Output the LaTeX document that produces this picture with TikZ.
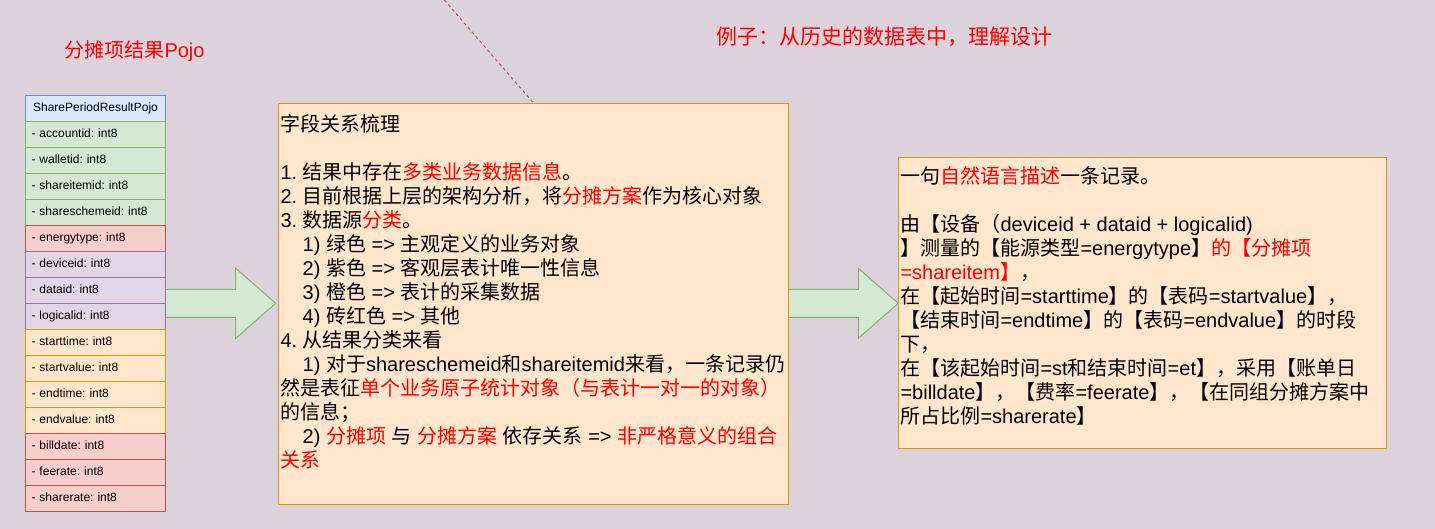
\documentclass[tikz,border=0pt]{standalone}
\usepackage{fontspec}
\setmainfont{Liberation Sans}
\newfontfamily\zhfont{Noto Sans CJK SC}
\newcommand\zhrun[1]{{\zhfont #1}}
\newcommand\redtxt[1]{{\color{red}#1}}
\newcommand\tabin{\hspace*{22.2pt}}
\definecolor{bg}{RGB}{219,210,219}
\definecolor{fgrn}{HTML}{D5E8D4}\definecolor{lgrn}{HTML}{82B366}
\definecolor{fbrk}{HTML}{F8CECC}\definecolor{lbrk}{HTML}{B85450}
\definecolor{fpur}{HTML}{E1D5E7}\definecolor{lpur}{HTML}{9673A6}
\definecolor{forg}{HTML}{FFE6CC}\definecolor{lorg}{HTML}{D79B00}
\definecolor{fblu}{HTML}{DAE8FC}\definecolor{lblu}{HTML}{6C8EBF}
\definecolor{dashred}{HTML}{B85450}
\begin{document}
\frenchspacing
\begin{tikzpicture}[x=1pt,y=-1pt,line width=1pt,
  row/.style={draw, anchor=north west, minimum width=140pt, minimum height=26pt,
    inner xsep=6pt, inner ysep=0pt, text width=128pt, align=left,
    font=\fontsize{12}{14}\selectfont, text height=8.6pt, text depth=2.6pt},
  hdr/.style={row, align=center, fill=fblu, draw=lblu},
  note/.style={draw=lorg, fill=forg, anchor=north west, inner sep=0pt},
  blockarrow/.style={draw=lgrn, fill=fgrn, line join=miter},
  body/.style={anchor=north west, inner sep=0pt, align=left,
    font={\fontsize{20}{24}\selectfont\lineskiplimit-50pt\lineskip0pt}},
  title/.style={anchor=base west, inner sep=0pt, text=red}]

% canvas
\useasboundingbox (0,0) rectangle (1435,529);
\fill[bg] (0,0) rectangle (1435,529);

% block arrows (drawn first, the boxes sit on top of their ends)
\draw[blockarrow] (165,289.3) -- (235.7,289.3) -- (235.7,268.3) -- (275.7,303.3)
  -- (235.7,338.3) -- (235.7,317.3) -- (165,317.3) -- cycle;
\draw[blockarrow] (788,289.3) -- (858.3,289.3) -- (858.3,268.3) -- (898.3,303.3)
  -- (858.3,338.3) -- (858.3,317.3) -- (788,317.3) -- cycle;

% class table
\node[hdr] (hdr) at (25,95) {SharePeriodResultPojo};
\foreach \lab/\sty [count=\i] in {accountid/grn,walletid/grn,shareitemid/grn,
  shareschemeid/grn,energytype/brk,deviceid/pur,dataid/pur,logicalid/pur,
  starttime/org,startvalue/org,endtime/org,endvalue/org,billdate/brk,
  feerate/brk,sharerate/brk}
  \node[row, draw=l\sty, fill=f\sty] (r\i) at (25,{95+26*\i}) {- \lab: int8};

% note boxes
\node[note, minimum width=510pt, minimum height=401pt] (mid) at (278,103) {};
\node[note, minimum width=488pt, minimum height=291pt] (rbox) at (898,157) {};

% dashed link
\coordinate (dtop) at (444.3,0);
\draw[dashred, dash pattern=on 3pt off 3pt] (dtop) -- (mid.north);

% titles
\node[title, font=\fontsize{20}{24}\selectfont] (t1) at (64,58) {\zhrun{分摊项结果}Pojo};
\node[title, font=\fontsize{21}{25}\selectfont] (t2) at (716,44.7) {\zhrun{例子：从历史的数据表中，理解设计}};

% field relation notes
\node[body] (midtxt) at (280,111) {\rule{0pt}{20pt}\zhrun{字段关系梳理}\\[24pt]
1. \zhrun{结果中存在}\redtxt{\zhrun{多类业务数据信息}}\zhrun{。}\\
2. \zhrun{目前根据上层的架构分析，将}\redtxt{\zhrun{分摊方案}}\zhrun{作为核心对象}\\
3. \zhrun{数据源}\redtxt{\zhrun{分类}}\zhrun{。}\\
\tabin 1) \zhrun{绿色} => \zhrun{主观定义的业务对象}\\
\tabin 2) \zhrun{紫色} => \zhrun{客观层表计唯一性信息}\\
\tabin 3) \zhrun{橙色} => \zhrun{表计的采集数据}\\
\tabin 4) \zhrun{砖红色} => \zhrun{其他}\\
4. \zhrun{从结果分类来看}\\
\tabin 1) \zhrun{对于}shareschemeid\zhrun{和}shareitemid\zhrun{来看，一条记录仍}\\
\zhrun{然是表征}\redtxt{\zhrun{单个业务原子统计对象（与表计一对一的对象）}}\\
\zhrun{的信息；}\\
\tabin 2) \redtxt{\zhrun{分摊项}} \zhrun{与} \redtxt{\zhrun{分摊方案}} \zhrun{依存关系} => \redtxt{\zhrun{非严格意义的组合}}\\
\redtxt{\zhrun{关系}}};

% record description
\node[body] (rtxt) at (900,162.5) {\rule{0pt}{20pt}\zhrun{一句}\redtxt{\zhrun{自然语言描述}}\zhrun{一条记录。}\\[24pt]
\zhrun{由【设备（}deviceid + dataid + logicalid)\\
\zhrun{】测量的【能源类型}=energytype\zhrun{】}\redtxt{\zhrun{的【分摊项}}\\
\redtxt{=shareitem\zhrun{】}}\zhrun{，}\\
\zhrun{在【起始时间}=starttime\zhrun{】的【表码}=startvalue\zhrun{】，}\\
\zhrun{【结束时间}=endtime\zhrun{】的【表码}=endvalue\zhrun{】的时段}\\
\zhrun{下，}\\
\zhrun{在【该起始时间}=st\zhrun{和结束时间}=et\zhrun{】，采用【账单日}\\
=billdate\zhrun{】，【费率}=feerate\zhrun{】，【在同组分摊方案中}\\
\zhrun{所占比例}=sharerate\zhrun{】}};
\end{tikzpicture}
\end{document}
